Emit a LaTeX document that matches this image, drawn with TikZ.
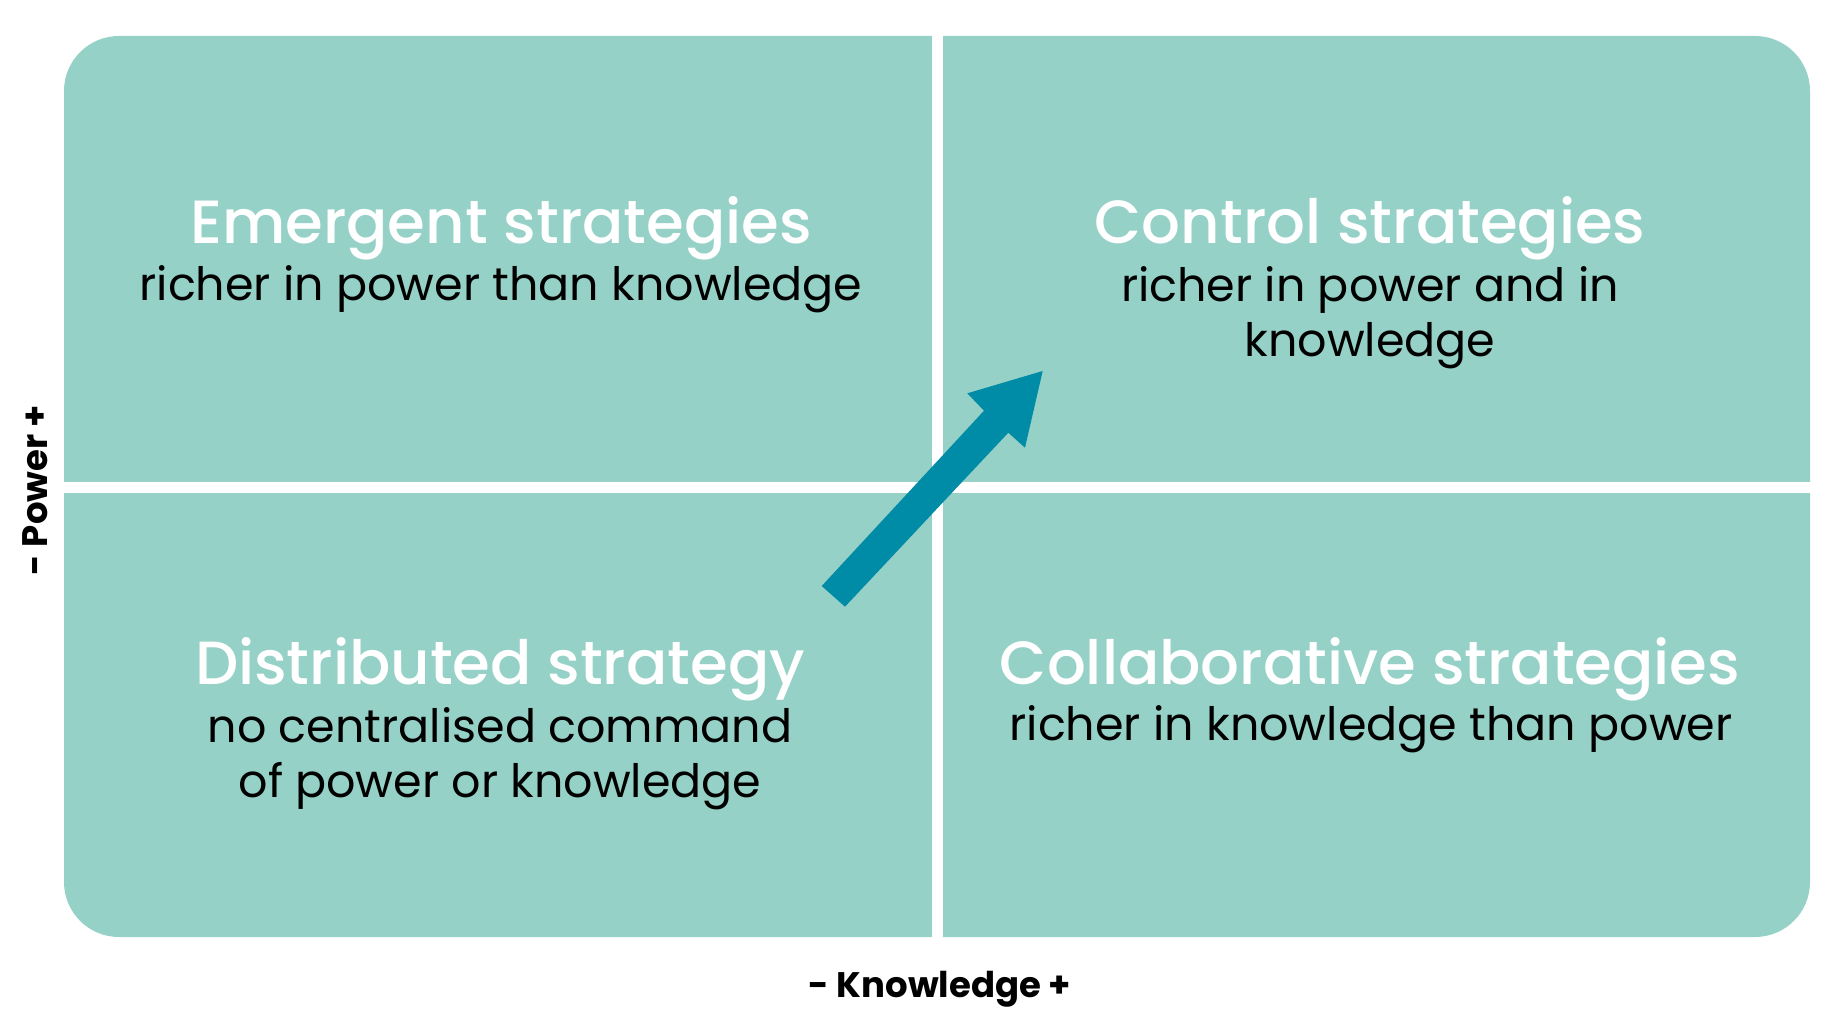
\documentclass[tikz,border=0pt]{standalone}
\usepackage{fontspec}
\setmainfont{Poppins}
\newfontfamily\headfont{Poppins Medium}
\definecolor{quad}{RGB}{149,209,199}
\definecolor{arrowteal}{RGB}{0,140,166}
\tikzset{
  heading/.style={text=white, font=\headfont\fontsize{61}{61}\selectfont, anchor=base, inner sep=0pt},
  body/.style={text=black, font=\fontsize{46}{55}\selectfont, anchor=base, inner sep=0pt, align=center},
  axislabel/.style={text=black, font=\bfseries\fontsize{35.5}{35.5}\selectfont, inner sep=0pt, anchor=base},
}
\begin{document}
\begin{tikzpicture}[x=1pt,y=-1pt]
\useasboundingbox (0,0) rectangle (1840,1024);
\fill[white] (0,0) rectangle (1840,1024);
% quadrant field
\fill[quad, rounded corners=55pt] (64,36) rectangle (1810,937);
\fill[white] (932,30) rectangle (943,940);
\fill[white] (60,482) rectangle (1815,493);
% arrow
\coordinate (t1) at (821.7,586);
\coordinate (t2) at (845,606.7);
\coordinate (s2) at (1008.3,432.7);
\coordinate (b2) at (1025,447.7);
\coordinate (tip) at (1042.7,371);
\coordinate (b1) at (967.3,393.3);
\coordinate (s1) at (984,410.7);
\fill[arrowteal] (t1) -- (t2) -- (s2) -- (b2) -- (tip) -- (b1) -- (s1) -- cycle;
% texts
\node[heading] (h1) at (501,244) {Emergent strategies};
\node[body] (d1) at (501,301) {richer in power than knowledge};
\node[heading] (h2) at (1370,244) {Control strategies};
\node[body] (d2) at (1370,357) {richer in power and in\\knowledge};
\node[heading] (h3) at (500,684) {Distributed strategy};
\node[body] (d3) at (500,797) {no centralised command\\of power or knowledge};
\node[heading] (h4) at (1370,684) {Collaborative strategies};
\node[body] (d4) at (1371,740) {richer in knowledge than power};
\node[axislabel] (kx) at (940,997) {- Knowledge +};
\node[axislabel, rotate=90] (py) at (47,490) {- Power +};
\end{tikzpicture}
\end{document}
